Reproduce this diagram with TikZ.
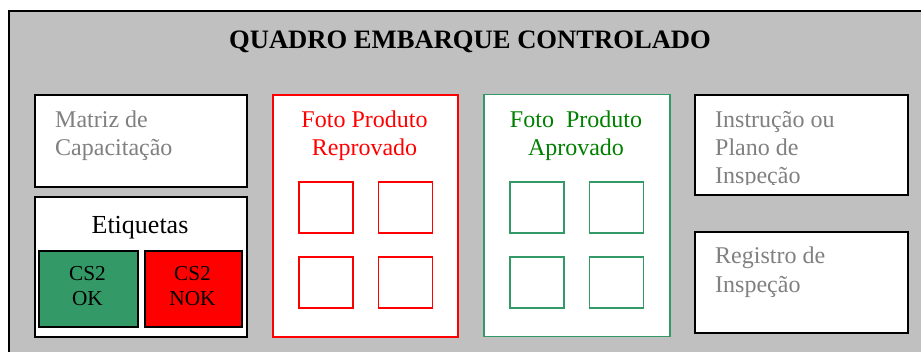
\documentclass[tikz,border=0pt]{standalone}
\usepackage{fontspec}
\setmainfont{Liberation Serif}
\definecolor{panelgrey}{HTML}{C0C0C0}
\definecolor{txtgrey}{HTML}{808080}
\definecolor{okgreen}{HTML}{339966}
\definecolor{txtgreen}{HTML}{008000}
\definecolor{nokred}{HTML}{FF0000}
\tikzset{
  box/.style={draw=black, line width=2pt, fill=white, anchor=north west, inner sep=0pt},
  redbox/.style={draw=nokred, line width=1.8pt, fill=white, anchor=north west, inner sep=0pt},
  greenbox/.style={draw=okgreen, line width=1.5pt, fill=white, anchor=north west, inner sep=0pt},
  redsq/.style={draw=nokred, line width=1.6pt, fill=white, anchor=north west, inner sep=0pt, minimum width=54pt, minimum height=51pt},
  greensq/.style={draw=okgreen, line width=1.6pt, fill=white, anchor=north west, inner sep=0pt, minimum width=54pt, minimum height=51pt},
  lbl/.style={inner sep=0pt, font=\fontsize{24}{28}\selectfont, anchor=base},
  tag/.style={inner sep=0pt, font=\fontsize{21.3}{25}\selectfont, anchor=base},
  lblw/.style={inner sep=0pt, font=\fontsize{24}{28}\selectfont, anchor=base west, text=txtgrey},
}
\begin{document}
\begin{tikzpicture}[x=1pt, y=-1pt]
\useasboundingbox (0,0) rectangle (921,352);
\clip (0,0) rectangle (921,352);
% outer panel
\node[draw=black, line width=2pt, fill=panelgrey, anchor=north west, inner sep=0pt,
      minimum width=940pt, minimum height=360pt] (panel) at (8,10) {};
\node[inner sep=0pt, anchor=base, font=\fontsize{26.6}{30}\selectfont\bfseries] (title) at (470,49) {QUADRO EMBARQUE CONTROLADO};
% Matriz
\node[box, minimum width=212pt, minimum height=92pt] (matriz) at (34,94) {};
\node[lblw] (m1) at (55,128) {Matriz de};
\node[lblw] (m2) at (55,156) {Capacitação};
% Etiquetas
\node[box, minimum width=212pt, minimum height=140pt] (etiq) at (34,196) {};
\node[lbl, font=\fontsize{26}{30}\selectfont] (etiqt) at (140,233.5) {Etiquetas};
\node[box, fill=okgreen, minimum width=99pt, minimum height=76pt] (ok) at (38,250) {};
\node[tag] (ok1) at (87.5,281) {CS2};
\node[tag] (ok2) at (87.5,306) {OK};
\node[box, fill=nokred, minimum width=97pt, minimum height=76pt] (nok) at (144,250) {};
\node[tag] (nok1) at (192.5,281) {CS2};
\node[tag] (nok2) at (192.5,306) {NOK};
% Reprovado
\node[redbox, minimum width=185pt, minimum height=242pt] (rep) at (272,94) {};
\node[lbl, text=nokred] (rep1) at (364.5,128) {Foto Produto};
\node[lbl, text=nokred] (rep2) at (364.5,156) {Reprovado};
\node[redsq] (r11) at (298,181) {};
\node[redsq] (r12) at (377.5,181) {};
\node[redsq] (r21) at (298,256) {};
\node[redsq] (r22) at (377.5,256) {};
% Aprovado
\node[greenbox, minimum width=186pt, minimum height=242pt] (apr) at (483,94) {};
\node[lbl, text=txtgreen] (apr1) at (576,128) {Foto\ \ Produto};
\node[lbl, text=txtgreen] (apr2) at (576,156) {Aprovado};
\node[greensq] (g11) at (509,181) {};
\node[greensq] (g12) at (588.5,181) {};
\node[greensq] (g21) at (509,256) {};
\node[greensq] (g22) at (588.5,256) {};
% Instrucao
\node[box, minimum width=213pt, minimum height=100pt] (instr) at (694,94) {};
\begin{scope}
\clip (696,96) rectangle (905,185);
\node[lblw] (i1) at (715,128) {Instrução ou};
\node[lblw] (i2) at (715,156) {Plano de};
\node[lblw] (i3) at (715,184) {Inspeção};
\end{scope}
% Registro
\node[box, minimum width=213pt, minimum height=101pt] (reg) at (694,231) {};
\node[lblw] (g1) at (715,264) {Registro de};
\node[lblw] (g2) at (715,293) {Inspeção};
\end{tikzpicture}
\end{document}
